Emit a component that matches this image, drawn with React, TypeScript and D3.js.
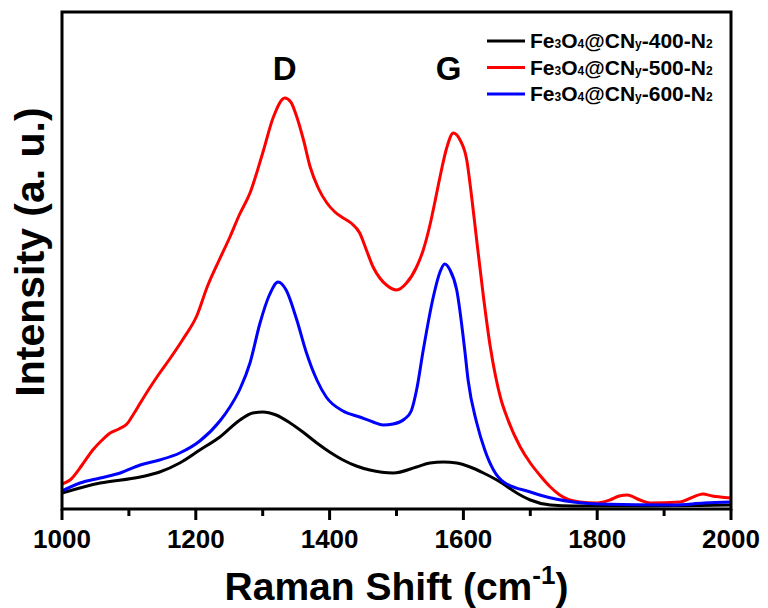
import React from 'react';
import * as d3 from 'd3';

// Raman spectra (arbitrary intensity units)
const shift400 = [1000, 1057, 1117, 1146, 1176, 1206, 1236, 1266, 1285, 1300, 1320, 1341, 1360, 1381, 1400, 1420, 1440, 1460, 1495, 1530, 1550, 1570, 1590, 1610, 1630, 1650, 1685, 1700, 1730, 1764, 1850, 2000];
const int400 = [16, 26, 32, 37, 46, 59, 72, 89, 96, 97, 94, 86, 77, 66, 57, 49, 43, 39, 36, 42, 46, 47, 46, 42, 36, 29, 14, 9, 4, 3, 3, 4];

const shift500 = [1000, 1012, 1030, 1046, 1060, 1072, 1085, 1097, 1107, 1117, 1131, 1146, 1161, 1181, 1202, 1217, 1235, 1251, 1265, 1281, 1300, 1316, 1333, 1342, 1351, 1361, 1371, 1383, 1396, 1408, 1418, 1432, 1445, 1455, 1465, 1475, 1485, 1500, 1515, 1530, 1540, 1550, 1558, 1565, 1575, 1585, 1595, 1605, 1612, 1620, 1630, 1640, 1648, 1656, 1665, 1685, 1700, 1714, 1730, 1744, 1774, 1800, 1819, 1833, 1845, 1864, 1879, 1924, 1940, 1958, 1972, 1984, 2000];
const int500 = [25, 29, 44, 59, 69, 76, 80, 85, 95, 106, 121, 136, 150, 170, 194, 222, 249, 272, 294, 316, 356, 392, 411, 407, 392, 369, 342, 321, 306, 297, 292, 286, 276, 259, 242, 231, 224, 219, 226, 242, 259, 284, 309, 332, 361, 376, 369, 349, 314, 268, 212, 163, 133, 110, 92, 62, 46, 34, 22, 14, 7, 6, 9, 13, 14, 9, 6, 7, 11, 15, 13, 12, 11];

const shift600 = [1000, 1027, 1057, 1087, 1117, 1146, 1176, 1206, 1236, 1251, 1266, 1281, 1296, 1310, 1323, 1335, 1351, 1365, 1381, 1395, 1420, 1445, 1465, 1480, 1495, 1512, 1522, 1530, 1540, 1555, 1565, 1572, 1580, 1590, 1602, 1607, 1620, 1632, 1645, 1660, 1700, 1714, 1764, 1800, 1914, 1960, 2000];
const int600 = [18, 26, 31, 36, 44, 49, 56, 68, 88, 102, 120, 146, 186, 214, 227, 219, 189, 157, 129, 112, 98, 92, 87, 84, 85, 90, 98, 119, 159, 212, 237, 245, 239, 219, 159, 129, 86, 59, 39, 27, 17, 14, 7, 5, 4, 6, 7];

const seriesNames = ['400', '500', '600'];
const seriesColors = ['#000000', '#ff0000', '#0000ff'];
const majorTicks = [1000, 1200, 1400, 1600, 1800, 2000];
const minorTicks = [1100, 1300, 1500, 1700, 1900];
const peakLabels = [{ label: 'D', at: 1333 }, { label: 'G', at: 1578 }];

const W = 768;
const H = 608;
const left = 62, right = 731, top = 12, bottom = 509;
const font = '"Liberation Sans", Arial, sans-serif';

export default function App() {
  const x = d3.scaleLinear().domain([1000, 2000]).range([left, right]);
  const y = d3.scaleLinear().domain([0, 497]).range([bottom, top]);

  const line = d3.line<[number, number]>()
    .x(d => x(d[0]))
    .y(d => y(d[1]))
    .curve(d3.curveMonotoneX);

  const series = [
    shift400.map((s, i) => [s, int400[i]] as [number, number]),
    shift500.map((s, i) => [s, int500[i]] as [number, number]),
    shift600.map((s, i) => [s, int600[i]] as [number, number]),
  ];

  return (
    <svg width={W} height={H} style={{ position: 'absolute', left: 0, top: 0, background: '#fff' }}
      fontFamily={font} fontWeight="bold">
      <defs>
        <clipPath id="plot">
          <rect x={left} y={top} width={right - left} height={bottom - top} />
        </clipPath>
      </defs>

      <g clipPath="url(#plot)">
        {series.map((d, i) => (
          <path key={i} d={line(d) ?? ''} fill="none" stroke={seriesColors[i]} strokeWidth={3} strokeLinejoin="round" />
        ))}
      </g>

      <rect x={left} y={top} width={right - left} height={bottom - top} fill="none" stroke="#000" strokeWidth={3} />

      {majorTicks.map(t => (
        <g key={t}>
          <line x1={x(t)} x2={x(t)} y1={bottom} y2={bottom + 11} stroke="#000" strokeWidth={3} />
          <text x={x(t)} y={548} textAnchor="middle" fontSize={26}>{t}</text>
        </g>
      ))}
      {minorTicks.map(t => (
        <line key={t} x1={x(t)} x2={x(t)} y1={bottom} y2={bottom + 7} stroke="#000" strokeWidth={3} />
      ))}

      <text x={(left + right) / 2} y={600} textAnchor="middle" fontSize={39}>
        Raman Shift (cm<tspan fontSize={26} dy={-16}>-1</tspan><tspan dy={16}>)</tspan>
      </text>
      <text transform={`translate(44, 252) rotate(-90)`} textAnchor="middle" fontSize={41}>
        Intensity (a. u.)
      </text>

      {peakLabels.map(p => (
        <text key={p.label} x={x(p.at)} y={80} textAnchor="middle" fontSize={33}>{p.label}</text>
      ))}

      {seriesNames.map((n, i) => {
        const ly = 41 + i * 26.5;
        return (
          <g key={n}>
            <line x1={487} x2={525} y1={ly} y2={ly} stroke={seriesColors[i]} strokeWidth={3} />
            <text x={530} y={ly + 7} fontSize={21}>
              Fe<tspan fontSize={12}>3</tspan>O<tspan fontSize={12}>4</tspan>@CN<tspan fontSize={12}>y</tspan>-{n}-N<tspan fontSize={12}>2</tspan>
            </text>
          </g>
        );
      })}
    </svg>
  );
}
